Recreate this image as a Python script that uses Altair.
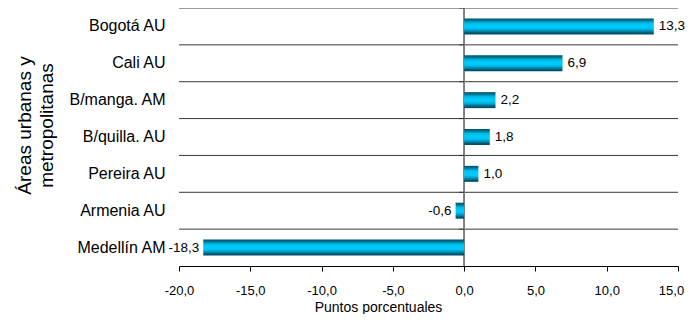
import altair as alt
import pandas as pd

categories = ["Bogotá AU", "Cali AU", "B/manga. AM", "B/quilla. AU", "Pereira AU", "Armenia  AU", "Medellín AM"]
values = [13.3, 6.9, 2.2, 1.8, 1.0, -0.6, -18.3]
x_ticks = [-20, -15, -10, -5, 0, 5, 10, 15]

df = pd.DataFrame({"area": categories, "valor": values})
df["etiqueta"] = [f"{v:.1f}".replace(".", ",") for v in values]

FONT = "Liberation Sans"
PLOT_W, PLOT_H = 499, 258

y_enc = alt.Y("area:N", sort=categories,
              scale=alt.Scale(paddingInner=0, paddingOuter=0),
              axis=alt.Axis(title=["Áreas urbanas y", "metropolitanas"],
                            titleFontSize=19, titleFont=FONT, titleFontWeight="normal",
                            titleColor="black", titleX=-149, titleY=117,
                            titleAngle=-90, titleAlign="center", titleBaseline="alphabetic",
                            titleLineHeight=22,
                            labelFont=FONT, labelFontSize=16, labelColor="black",
                            labelPadding=14, domain=False, ticks=False, grid=False))

x_scale = alt.Scale(domain=[-20, 15], nice=False, zero=False)

grad = alt.Gradient(
    gradient="linear", x1=0, x2=0, y1=0, y2=1,
    stops=[
        alt.GradientStop(color="#004f66", offset=0),
        alt.GradientStop(color="#00789a", offset=0.14),
        alt.GradientStop(color="#00b8e0", offset=0.28),
        alt.GradientStop(color="#00ccff", offset=0.45),
        alt.GradientStop(color="#00c4f4", offset=0.62),
        alt.GradientStop(color="#0096bd", offset=0.76),
        alt.GradientStop(color="#005a75", offset=0.9),
        alt.GradientStop(color="#004a60", offset=1),
    ],
)

base = alt.Chart(df)

grid = base.mark_rule(color="#383838", strokeWidth=1).encode(
    y=alt.Y("area:N", sort=categories, bandPosition=0),
    x=alt.datum(-20, scale=x_scale),
    x2=alt.datum(15),
)

zero = base.mark_rule(color="#808080", strokeWidth=1).encode(
    x=alt.datum(0, scale=x_scale),
    y=alt.value(0), y2=alt.value(PLOT_H),
)

zero_ticks = base.mark_tick(orient="horizontal", size=5, thickness=1, color="#202020",
                            xOffset=-2.5).encode(
    x=alt.datum(0, scale=x_scale),
    y=alt.Y("area:N", sort=categories, bandPosition=0),
)

bars = base.mark_bar(size=16, color=grad).encode(
    x=alt.X("valor:Q", scale=x_scale,
            axis=alt.Axis(values=x_ticks, title="Puntos porcentuales",
                          labelExpr="replace(replace(format(datum.value, '.1f'), '.', ','), '\u2212', '-')",
                          labelFlush=False, labelOverlap=False,
                          labelOffset={"condition": {"test": "datum.value == 15", "value": -7}, "value": 0},
                          titleFont=FONT, titleFontSize=14, titleFontWeight="normal",
                          titleColor="black", titleX=199, titleY=45,
                          titleAlign="center", titleBaseline="alphabetic",
                          labelFont=FONT, labelFontSize=13, labelColor="black",
                          labelBaseline="alphabetic", labelPadding=23,
                          domainColor="black", tickColor="black",
                          tickSize=5, grid=False)),
    y=y_enc,
)

text_pos = base.transform_filter("datum.valor >= 0").mark_text(
    align="left", baseline="middle", dx=5, font=FONT, fontSize=13.5, color="black"
).encode(x=alt.X("valor:Q", scale=x_scale), y=alt.Y("area:N", sort=categories), text="etiqueta:N")

text_neg = base.transform_filter("datum.valor < 0").mark_text(
    align="right", baseline="middle", dx=-4, font=FONT, fontSize=13.5, color="black"
).encode(x=alt.X("valor:Q", scale=x_scale), y=alt.Y("area:N", sort=categories), text="etiqueta:N")

chart = alt.layer(grid, zero, zero_ticks, bars, text_pos, text_neg).properties(
    width=PLOT_W, height=PLOT_H,
    autosize=alt.AutoSizeParams(type="none"),
    padding={"left": 171, "top": 0, "right": 7, "bottom": 48},
).configure(background="white").configure_view(stroke=None)

chart.save("out.html", embed_options={"renderer": "svg", "actions": False})
